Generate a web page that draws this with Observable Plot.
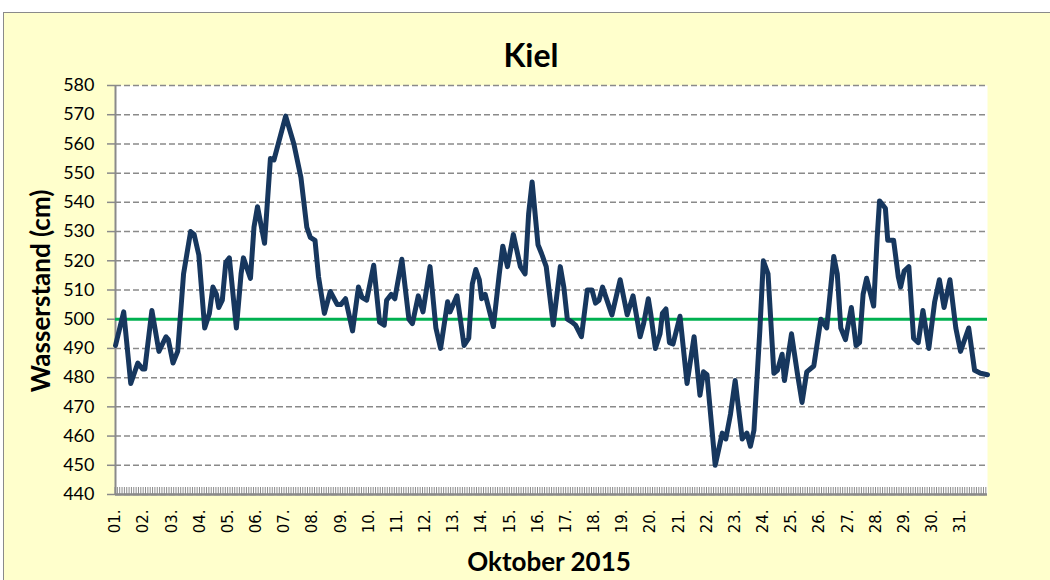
<!DOCTYPE html>
<html>
<head>
<meta charset="utf-8">
<script src="https://cdn.jsdelivr.net/npm/d3@7"></script>
<script src="https://cdn.jsdelivr.net/npm/@observablehq/plot@0.6"></script>
<style>
  html, body { margin: 0; padding: 0; }
  body { width: 1050px; height: 580px; overflow: hidden; position: relative; background: #ffffff; font-family: Lato, sans-serif; }
  #frame { position: absolute; left: 3px; top: 12px; width: 1100px; height: 620px; background: #FFFFCC; border: 1px solid #8a8a8a; box-sizing: border-box; }
  #chart { position: absolute; left: 0; top: 0; }
  #title { position: absolute; left: 0; top: 39px; width: 1062px; text-align: center; font: bold 32px/32px Lato, sans-serif; color: #000; }
  #ytitle { position: absolute; left: 40px; top: 291px; transform: translate(-50%, -50%) rotate(-90deg); white-space: nowrap; font: bold 26px Lato, sans-serif; color: #000; }
  #xtitle { position: absolute; left: 549px; top: 561px; transform: translate(-50%, -50%); white-space: nowrap; font: bold 26px Lato, sans-serif; color: #000; }
</style>
</head>
<body>
<div id="frame"></div>
<div id="chart"></div>
<div id="title">Kiel</div>
<div id="ytitle">Wasserstand (cm)</div>
<div id="xtitle">Oktober 2015</div>
<script>
// Hours since 1 October 2015 00:00 (readings taken from the reference line)
const hours = [0,7,13,19,23,25,31,37,43,45,49,53,58,64,67,71,76,80,83,86,88,91,94,97,103,107,109,115,118,121,127,132,135,
  145,152,158,163,166,170,173,178,183,189,192,196,202,207,210,214,220,225,229,231,235,238,244,250,253,258,262,268,273,277,
  283,285,291,297,301,304,307,310,312,315,322,327,330,334,339,345,349,352,355,360,363,367,373,379,382,385,389,392,397,
  402,406,409,412,415,423,430,436,441,447,450,454,456,460,464,466,469,472,475,481,487,493,498,501,504,511,517,520,524,
  528,534,538,541,544,549,552,556,561,564,568,570,576,581,585,589,595,601,606,612,615,618,622,627,631,634,637,640,646,
  649,651,656,658,663,667,669,672,676,680,684,688,693,698,702,706,711,716,720,727,732,737,743];
// Water level in cm
const levels = [491,502.5,478,485,483,483,503,489,494,493,485,489,515.5,530,529,522,497,502,511,508.5,504,506.5,519.5,521,497,515.5,521,514,531.5,538.5,526,555,554.5,
  569.5,560,548.5,531.5,528,527,514.5,502,509.5,505,505,507,496,511,507.5,506.5,518.5,499,498,506.5,508.5,507,520.5,500,498.5,508,502.5,518,497,490,
  506,502.5,508,491,493.5,512,517,513.5,507,508.5,497.5,515.5,525,518,529,518,515.5,536,547,525.5,522.5,518,498,518,511,500,499,498,494,
  510,510,505.5,506.5,511,501.5,513.5,501.5,508,494,498.5,507,502,490,495,502,503.5,492,491.5,501,478,494,474,482,481,450,461,459,467.5,
  479,459,461,456.5,462,496,520,515.5,481.5,482.5,488,479,495,481.5,471.5,482,484,500,497,521.5,515.5,497,493,504,491,492,508.5,514,504.5,
  528,540.5,538,527,527,514.5,511,516.5,518,493.5,492,503,490,506,513.5,504,513.5,497,489,497,482.5,481.5,481];
const referenceLevel = [500];
const yTicks = [440,450,460,470,480,490,500,510,520,530,540,550,560,570,580];
const dayLabels = ["01.","02.","03.","04.","05.","06.","07.","08.","09.","10.","11.","12.","13.","14.","15.","16.",
  "17.","18.","19.","20.","21.","22.","23.","24.","25.","26.","27.","28.","29.","30.","31."];
const dayTicks = dayLabels.map((_, i) => i * 24);
const minorHours = d3.range(0, 744, 2);

const data = hours.map((h, i) => ({h, v: levels[i]}));
const axisGray = "#8a8a8a";

const minorTickMark = (index, scales, values, dims) => {
  const g = d3.create("svg:g").attr("stroke", axisGray).attr("stroke-width", 1);
  const yb = dims.height - dims.marginBottom;
  for (const h of minorHours) {
    const x = scales.x(h);
    g.append("line").attr("x1", x).attr("x2", x).attr("y1", yb - 7).attr("y2", yb);
  }
  return g.node();
};

const chart = Plot.plot({
  width: 1050,
  height: 580,
  marginLeft: 115,
  marginRight: 63,
  marginTop: 85,
  marginBottom: 86,
  style: {background: "transparent", overflow: "visible"},
  x: {domain: [0, 743], axis: null},
  y: {domain: [440, 580], axis: null},
  marks: [
    Plot.frame({fill: "white", stroke: null}),
    Plot.gridY(yTicks, {stroke: axisGray, strokeOpacity: 1, strokeWidth: 1.5, strokeDasharray: "6,3"}),
    Plot.axisY(yTicks, {anchor: "left", tickSize: 8, tickPadding: 13, fontSize: 18, fontFamily: "Lato", fill: "#000", stroke: axisGray, strokeWidth: 1.5, label: null}),
    Plot.axisX(dayTicks, {anchor: "bottom", tickFormat: d => dayLabels[dayTicks.indexOf(d)], tickRotate: -90, tickSize: 0, tickPadding: 15,
      fontSize: 15, fontFamily: "DejaVu Sans", fill: "#000", label: null}),
    minorTickMark,
    Plot.ruleX([0], {stroke: axisGray, strokeWidth: 2}),
    Plot.ruleY([440], {stroke: axisGray, strokeWidth: 2.5}),
    Plot.ruleY(referenceLevel, {stroke: "#00B050", strokeWidth: 3}),
    Plot.line(data, {x: "h", y: "v", stroke: "#17375E", strokeWidth: 5, strokeLinejoin: "round", strokeLinecap: "round"})
  ]
});
document.getElementById("chart").appendChild(chart);
</script>
</body>
</html>
